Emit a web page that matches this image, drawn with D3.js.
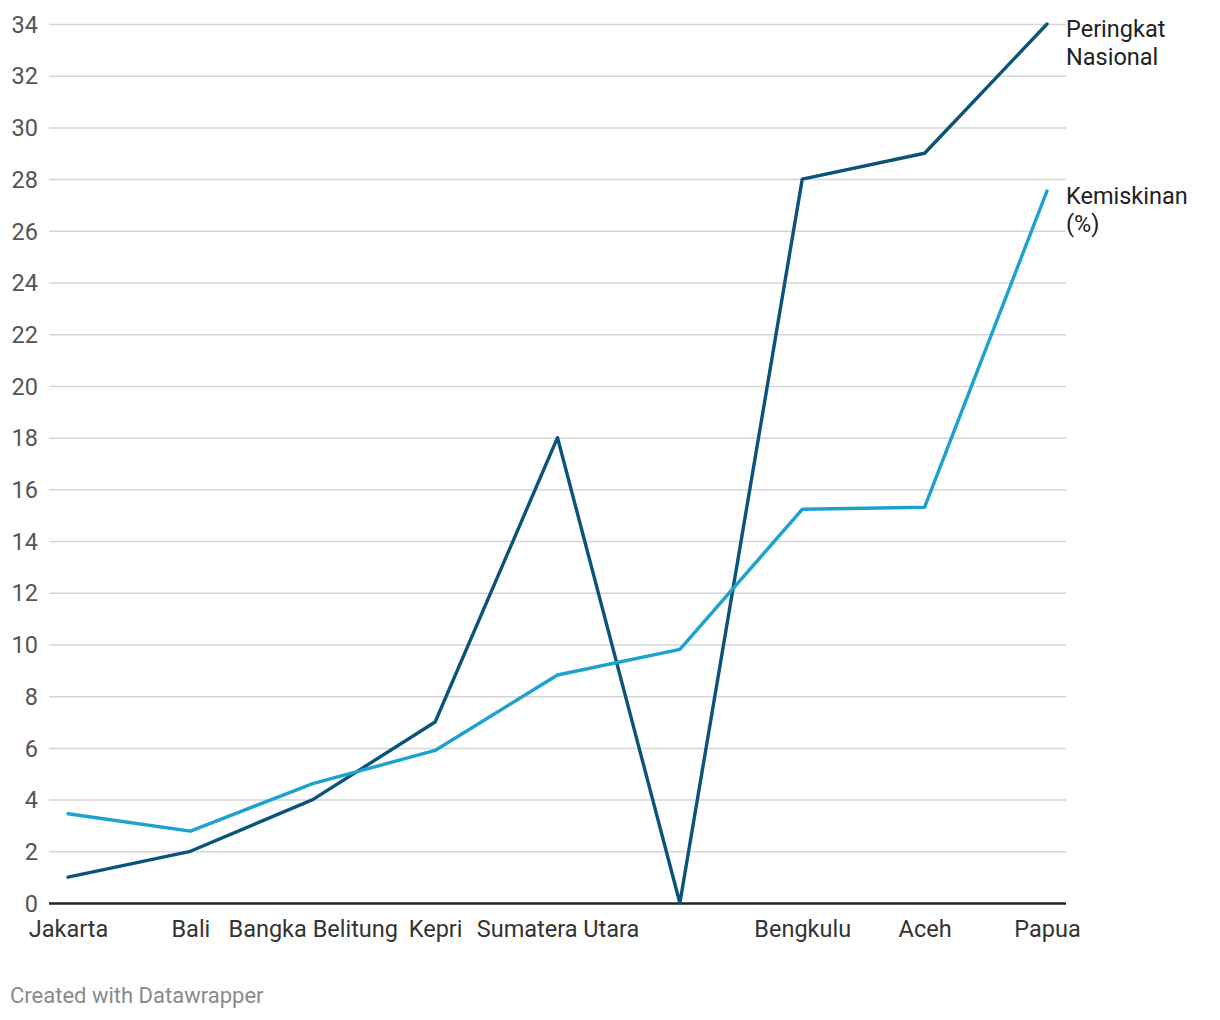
<!DOCTYPE html>
<html><head><meta charset="utf-8">
<script src="https://cdn.jsdelivr.net/npm/d3@7"></script>
<style>
body{margin:0;background:#fff;font-family:Roboto,"Noto Sans",sans-serif;}
</style></head><body>
<svg id="c" width="1220" height="1020"></svg>
<script>
const categories = ["Jakarta","Bali","Bangka Belitung","Kepri","Sumatera Utara","","Bengkulu","Aceh","Papua"];
const peringkat = [1,2,4,7,18,0,28,29,34];
const kemiskinan = [3.45,2.78,4.62,5.9,8.82,9.81,15.23,15.31,27.54];
const yTicks = [0,2,4,6,8,10,12,14,16,18,20,22,24,26,28,30,32,34];
const seriesNames = [["Peringkat","Nasional"],["Kemiskinan","(%)"]];
const colors = ["#0a5479","#1ba2cf"];

(function(){
const svg = d3.select("#c");
const pLeft = 49, pRight = 1066, pTop = 24, pBottom = 903;
const x = d3.scalePoint().domain(d3.range(categories.length)).range([68,1047]);
const y = d3.scaleLinear().domain([0,34]).range([pBottom, pTop]);

const yAxis = d3.axisLeft(y).tickValues(yTicks).tickSize(-(pRight-pLeft)).tickFormat(d3.format("d"));
const gy = svg.append("g").attr("transform",`translate(${pLeft},0)`).call(yAxis);
gy.select(".domain").remove();
gy.selectAll(".tick line").attr("stroke","#d5d5d5").attr("stroke-width",1.5);
gy.selectAll(".tick text").attr("x",-11).attr("dy","0.35em").attr("fill","#555")
  .style("font-size","23.5px").style("font-family","Roboto");
gy.selectAll(".tick").filter(d=>d===0).select("line").attr("stroke","#222").attr("stroke-width",2.5);

const xAxis = d3.axisBottom(x).tickSize(0).tickFormat(i=>categories[i]);
const gx = svg.append("g").attr("transform",`translate(0,${pBottom})`).call(xAxis);
gx.select(".domain").remove();
gx.selectAll(".tick text").attr("y",17).attr("dy","0.71em").attr("fill","#333")
  .style("font-size","23.5px").style("font-family","Roboto");

const line = d3.line().x((d,i)=>x(i)).y(d=>y(d));
const series = [peringkat, kemiskinan];
series.forEach((s,k)=>{
  svg.append("path").datum(s).attr("d",line).attr("fill","none")
    .attr("stroke",colors[k]).attr("stroke-width",3.4)
    .attr("stroke-linejoin","round").attr("stroke-linecap","round");
});
series.forEach((s,k)=>{
  const last = s[s.length-1];
  const t = svg.append("text").attr("x",pRight).attr("y",y(last)+13)
    .attr("fill","#222").style("font-size","23.5px").style("font-family","Roboto");
  seriesNames[k].forEach((w,j)=>{
    t.append("tspan").attr("x",pRight).attr("dy",j===0?0:28).text(w);
  });
});

svg.append("text").attr("x",10).attr("y",1003).attr("fill","#8a8a8a")
  .style("font-size","22px").style("font-family","Roboto").text("Created with Datawrapper");
})();
</script>
</body></html>
